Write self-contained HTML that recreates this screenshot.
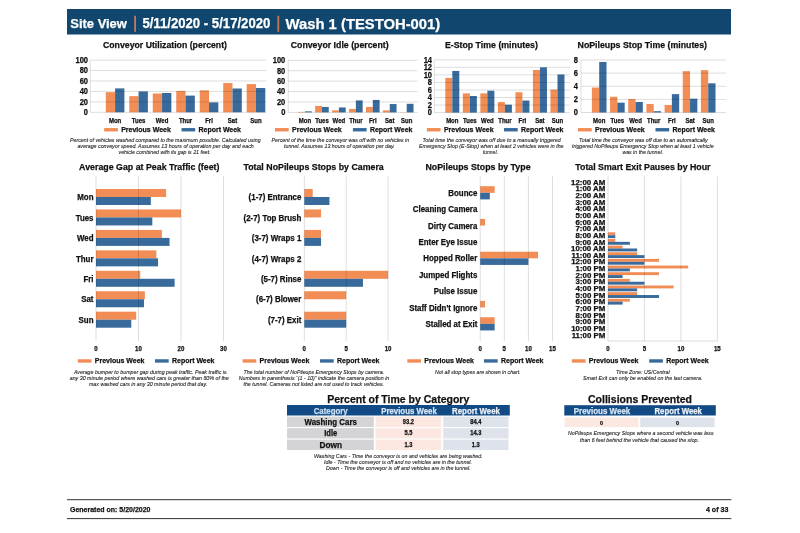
<!DOCTYPE html>
<html><head><meta charset="utf-8"><title>Site View</title>
<style>
html,body{margin:0;padding:0;background:#ffffff;}
body{width:800px;height:533px;overflow:hidden;}
svg{display:block;font-family:"Liberation Sans", sans-serif;will-change:transform;}
</style></head>
<body>
<svg width="800" height="533" viewBox="0 0 800 533">
<rect x="0" y="0" width="800" height="533" fill="#ffffff"/>
<rect x="67.00" y="9.00" width="664.00" height="25.50" fill="#11466F"/>
<text x="70.30" y="28.20" font-size="13.20" font-weight="bold" fill="#ffffff" stroke="#ffffff" stroke-width="0.25" textLength="56.60" lengthAdjust="spacingAndGlyphs">Site View</text>
<rect x="134.20" y="15.80" width="1.80" height="16.00" fill="#C9784F"/>
<text x="142.40" y="28.20" font-size="13.86" font-weight="bold" fill="#ffffff" stroke="#ffffff" stroke-width="0.25" textLength="128.00" lengthAdjust="spacingAndGlyphs">5/11/2020 - 5/17/2020</text>
<rect x="277.40" y="15.80" width="1.80" height="16.00" fill="#C9784F"/>
<text x="285.60" y="29.00" font-size="14.80" font-weight="bold" fill="#ffffff" stroke="#ffffff" stroke-width="0.25" textLength="154.60" lengthAdjust="spacingAndGlyphs">Wash 1 (TESTOH-001)</text>
<text x="165.00" y="47.90" font-size="9.68" text-anchor="middle" font-weight="bold" fill="#111111" stroke="#111111" stroke-width="0.25" textLength="124.00" lengthAdjust="spacingAndGlyphs">Conveyor Utilization (percent)</text>
<rect x="105.80" y="92.20" width="9.30" height="20.10" fill="#F28D56"/>
<rect x="115.10" y="88.39" width="9.30" height="23.91" fill="#386B9B"/>
<text x="115.10" y="123.10" font-size="6.60" text-anchor="middle" font-weight="bold" fill="#111111" stroke="#111111" stroke-width="0.25" textLength="12.33" lengthAdjust="spacingAndGlyphs">Mon</text>
<rect x="129.28" y="96.12" width="9.30" height="16.18" fill="#F28D56"/>
<rect x="138.58" y="91.42" width="9.30" height="20.88" fill="#386B9B"/>
<text x="138.58" y="123.10" font-size="6.60" text-anchor="middle" font-weight="bold" fill="#111111" stroke="#111111" stroke-width="0.25" textLength="13.56" lengthAdjust="spacingAndGlyphs">Tues</text>
<rect x="152.76" y="93.51" width="9.30" height="18.79" fill="#F28D56"/>
<rect x="162.06" y="92.99" width="9.30" height="19.31" fill="#386B9B"/>
<text x="162.06" y="123.10" font-size="6.60" text-anchor="middle" font-weight="bold" fill="#111111" stroke="#111111" stroke-width="0.25" textLength="12.56" lengthAdjust="spacingAndGlyphs">Wed</text>
<rect x="176.24" y="90.90" width="9.30" height="21.40" fill="#F28D56"/>
<rect x="185.54" y="95.60" width="9.30" height="16.70" fill="#386B9B"/>
<text x="185.54" y="123.10" font-size="6.60" text-anchor="middle" font-weight="bold" fill="#111111" stroke="#111111" stroke-width="0.25" textLength="13.33" lengthAdjust="spacingAndGlyphs">Thur</text>
<rect x="199.72" y="90.38" width="9.30" height="21.92" fill="#F28D56"/>
<rect x="209.02" y="102.38" width="9.30" height="9.92" fill="#386B9B"/>
<text x="209.02" y="123.10" font-size="6.60" text-anchor="middle" font-weight="bold" fill="#111111" stroke="#111111" stroke-width="0.25" textLength="7.67" lengthAdjust="spacingAndGlyphs">Fri</text>
<rect x="223.20" y="83.07" width="9.30" height="29.23" fill="#F28D56"/>
<rect x="232.50" y="88.50" width="9.30" height="23.80" fill="#386B9B"/>
<text x="232.50" y="123.10" font-size="6.60" text-anchor="middle" font-weight="bold" fill="#111111" stroke="#111111" stroke-width="0.25" textLength="9.34" lengthAdjust="spacingAndGlyphs">Sat</text>
<rect x="246.68" y="84.11" width="9.30" height="28.19" fill="#F28D56"/>
<rect x="255.98" y="88.03" width="9.30" height="24.27" fill="#386B9B"/>
<text x="255.98" y="123.10" font-size="6.60" text-anchor="middle" font-weight="bold" fill="#111111" stroke="#111111" stroke-width="0.25" textLength="11.33" lengthAdjust="spacingAndGlyphs">Sun</text>
<line x1="90.20" y1="112.30" x2="266.50" y2="112.30" stroke="#000" stroke-opacity="0.17" stroke-width="0.8"/>
<text x="88.00" y="115.10" font-size="8.25" text-anchor="end" font-weight="bold" fill="#111111" stroke="#111111" stroke-width="0.25" textLength="4.17" lengthAdjust="spacingAndGlyphs">0</text>
<line x1="90.20" y1="101.86" x2="266.50" y2="101.86" stroke="#000" stroke-opacity="0.17" stroke-width="0.8"/>
<text x="88.00" y="104.66" font-size="8.25" text-anchor="end" font-weight="bold" fill="#111111" stroke="#111111" stroke-width="0.25" textLength="8.34" lengthAdjust="spacingAndGlyphs">20</text>
<line x1="90.20" y1="91.42" x2="266.50" y2="91.42" stroke="#000" stroke-opacity="0.17" stroke-width="0.8"/>
<text x="88.00" y="94.22" font-size="8.25" text-anchor="end" font-weight="bold" fill="#111111" stroke="#111111" stroke-width="0.25" textLength="8.34" lengthAdjust="spacingAndGlyphs">40</text>
<line x1="90.20" y1="80.98" x2="266.50" y2="80.98" stroke="#000" stroke-opacity="0.17" stroke-width="0.8"/>
<text x="88.00" y="83.78" font-size="8.25" text-anchor="end" font-weight="bold" fill="#111111" stroke="#111111" stroke-width="0.25" textLength="8.34" lengthAdjust="spacingAndGlyphs">60</text>
<line x1="90.20" y1="70.54" x2="266.50" y2="70.54" stroke="#000" stroke-opacity="0.17" stroke-width="0.8"/>
<text x="88.00" y="73.34" font-size="8.25" text-anchor="end" font-weight="bold" fill="#111111" stroke="#111111" stroke-width="0.25" textLength="8.34" lengthAdjust="spacingAndGlyphs">80</text>
<line x1="90.20" y1="60.10" x2="266.50" y2="60.10" stroke="#000" stroke-opacity="0.17" stroke-width="0.8"/>
<text x="88.00" y="62.90" font-size="8.25" text-anchor="end" font-weight="bold" fill="#111111" stroke="#111111" stroke-width="0.25" textLength="12.51" lengthAdjust="spacingAndGlyphs">100</text>
<line x1="90.20" y1="60.10" x2="90.20" y2="112.30" stroke="#000" stroke-opacity="0.17" stroke-width="0.8"/>
<rect x="104.20" y="128.05" width="13.70" height="3.40" fill="#F28D56"/>
<text x="121.20" y="132.25" font-size="7.70" font-weight="bold" fill="#111111" stroke="#111111" stroke-width="0.25" textLength="49.70" lengthAdjust="spacingAndGlyphs">Previous Week</text>
<rect x="181.50" y="128.05" width="13.70" height="3.40" fill="#386B9B"/>
<text x="198.50" y="132.25" font-size="7.70" font-weight="bold" fill="#111111" stroke="#111111" stroke-width="0.25" textLength="42.50" lengthAdjust="spacingAndGlyphs">Report Week</text>
<text x="70.00" y="141.60" font-size="5.70" font-style="italic" fill="#222" stroke="#222" stroke-width="0.1" textLength="190.60" lengthAdjust="spacingAndGlyphs">Percent of vehicles washed compared to the maximum possible. Calculated using</text>
<text x="77.40" y="147.60" font-size="5.70" font-style="italic" fill="#222" stroke="#222" stroke-width="0.1" textLength="176.35" lengthAdjust="spacingAndGlyphs">average conveyor speed. Assumes 13 hours of operation per day and each</text>
<text x="118.60" y="153.60" font-size="5.70" font-style="italic" fill="#222" stroke="#222" stroke-width="0.1" textLength="92.00" lengthAdjust="spacingAndGlyphs">vehicle combined with its gap is 21 feet.</text>
<text x="339.70" y="47.90" font-size="9.68" text-anchor="middle" font-weight="bold" fill="#111111" stroke="#111111" stroke-width="0.25" textLength="98.00" lengthAdjust="spacingAndGlyphs">Conveyor Idle (percent)</text>
<rect x="298.20" y="111.88" width="6.80" height="0.52" fill="#F28D56"/>
<rect x="305.00" y="111.36" width="6.80" height="1.04" fill="#386B9B"/>
<text x="305.00" y="123.10" font-size="6.60" text-anchor="middle" font-weight="bold" fill="#111111" stroke="#111111" stroke-width="0.25" textLength="12.33" lengthAdjust="spacingAndGlyphs">Mon</text>
<rect x="315.15" y="105.89" width="6.80" height="6.51" fill="#F28D56"/>
<rect x="321.95" y="106.93" width="6.80" height="5.47" fill="#386B9B"/>
<text x="321.95" y="123.10" font-size="6.60" text-anchor="middle" font-weight="bold" fill="#111111" stroke="#111111" stroke-width="0.25" textLength="13.56" lengthAdjust="spacingAndGlyphs">Tues</text>
<rect x="332.10" y="110.32" width="6.80" height="2.08" fill="#F28D56"/>
<rect x="338.90" y="107.45" width="6.80" height="4.95" fill="#386B9B"/>
<text x="338.90" y="123.10" font-size="6.60" text-anchor="middle" font-weight="bold" fill="#111111" stroke="#111111" stroke-width="0.25" textLength="12.56" lengthAdjust="spacingAndGlyphs">Wed</text>
<rect x="349.05" y="108.91" width="6.80" height="3.49" fill="#F28D56"/>
<rect x="355.85" y="100.42" width="6.80" height="11.98" fill="#386B9B"/>
<text x="355.85" y="123.10" font-size="6.60" text-anchor="middle" font-weight="bold" fill="#111111" stroke="#111111" stroke-width="0.25" textLength="13.33" lengthAdjust="spacingAndGlyphs">Thur</text>
<rect x="366.00" y="106.93" width="6.80" height="5.47" fill="#F28D56"/>
<rect x="372.80" y="99.90" width="6.80" height="12.50" fill="#386B9B"/>
<text x="372.80" y="123.10" font-size="6.60" text-anchor="middle" font-weight="bold" fill="#111111" stroke="#111111" stroke-width="0.25" textLength="7.67" lengthAdjust="spacingAndGlyphs">Fri</text>
<rect x="382.95" y="110.32" width="6.80" height="2.08" fill="#F28D56"/>
<rect x="389.75" y="104.06" width="6.80" height="8.34" fill="#386B9B"/>
<text x="389.75" y="123.10" font-size="6.60" text-anchor="middle" font-weight="bold" fill="#111111" stroke="#111111" stroke-width="0.25" textLength="9.34" lengthAdjust="spacingAndGlyphs">Sat</text>
<rect x="399.90" y="112.24" width="6.80" height="0.16" fill="#F28D56"/>
<rect x="406.70" y="103.80" width="6.80" height="8.60" fill="#386B9B"/>
<text x="406.70" y="123.10" font-size="6.60" text-anchor="middle" font-weight="bold" fill="#111111" stroke="#111111" stroke-width="0.25" textLength="11.33" lengthAdjust="spacingAndGlyphs">Sun</text>
<line x1="288.20" y1="112.40" x2="417.50" y2="112.40" stroke="#000" stroke-opacity="0.17" stroke-width="0.8"/>
<text x="285.30" y="115.20" font-size="8.25" text-anchor="end" font-weight="bold" fill="#111111" stroke="#111111" stroke-width="0.25" textLength="4.17" lengthAdjust="spacingAndGlyphs">0</text>
<line x1="288.20" y1="101.98" x2="417.50" y2="101.98" stroke="#000" stroke-opacity="0.17" stroke-width="0.8"/>
<text x="285.30" y="104.78" font-size="8.25" text-anchor="end" font-weight="bold" fill="#111111" stroke="#111111" stroke-width="0.25" textLength="8.34" lengthAdjust="spacingAndGlyphs">20</text>
<line x1="288.20" y1="91.56" x2="417.50" y2="91.56" stroke="#000" stroke-opacity="0.17" stroke-width="0.8"/>
<text x="285.30" y="94.36" font-size="8.25" text-anchor="end" font-weight="bold" fill="#111111" stroke="#111111" stroke-width="0.25" textLength="8.34" lengthAdjust="spacingAndGlyphs">40</text>
<line x1="288.20" y1="81.14" x2="417.50" y2="81.14" stroke="#000" stroke-opacity="0.17" stroke-width="0.8"/>
<text x="285.30" y="83.94" font-size="8.25" text-anchor="end" font-weight="bold" fill="#111111" stroke="#111111" stroke-width="0.25" textLength="8.34" lengthAdjust="spacingAndGlyphs">60</text>
<line x1="288.20" y1="70.72" x2="417.50" y2="70.72" stroke="#000" stroke-opacity="0.17" stroke-width="0.8"/>
<text x="285.30" y="73.52" font-size="8.25" text-anchor="end" font-weight="bold" fill="#111111" stroke="#111111" stroke-width="0.25" textLength="8.34" lengthAdjust="spacingAndGlyphs">80</text>
<line x1="288.20" y1="60.30" x2="417.50" y2="60.30" stroke="#000" stroke-opacity="0.17" stroke-width="0.8"/>
<text x="285.30" y="63.10" font-size="8.25" text-anchor="end" font-weight="bold" fill="#111111" stroke="#111111" stroke-width="0.25" textLength="12.51" lengthAdjust="spacingAndGlyphs">100</text>
<line x1="288.20" y1="60.30" x2="288.20" y2="112.40" stroke="#000" stroke-opacity="0.17" stroke-width="0.8"/>
<rect x="275.00" y="128.05" width="13.70" height="3.40" fill="#F28D56"/>
<text x="292.00" y="132.25" font-size="7.70" font-weight="bold" fill="#111111" stroke="#111111" stroke-width="0.25" textLength="49.70" lengthAdjust="spacingAndGlyphs">Previous Week</text>
<rect x="352.90" y="128.05" width="13.70" height="3.40" fill="#386B9B"/>
<text x="369.90" y="132.25" font-size="7.70" font-weight="bold" fill="#111111" stroke="#111111" stroke-width="0.25" textLength="42.50" lengthAdjust="spacingAndGlyphs">Report Week</text>
<text x="271.50" y="141.60" font-size="5.70" font-style="italic" fill="#222" stroke="#222" stroke-width="0.1" textLength="137.70" lengthAdjust="spacingAndGlyphs">Percent of the time the conveyor was off with no vehicles in</text>
<text x="284.00" y="147.60" font-size="5.70" font-style="italic" fill="#222" stroke="#222" stroke-width="0.1" textLength="110.80" lengthAdjust="spacingAndGlyphs">tunnel. Assumes 13 hours of operation per day.</text>
<text x="491.40" y="47.90" font-size="9.68" text-anchor="middle" font-weight="bold" fill="#111111" stroke="#111111" stroke-width="0.25" textLength="93.00" lengthAdjust="spacingAndGlyphs">E-Stop Time (minutes)</text>
<rect x="445.30" y="77.90" width="7.00" height="34.70" fill="#F28D56"/>
<rect x="452.30" y="70.93" width="7.00" height="41.67" fill="#386B9B"/>
<text x="452.30" y="123.10" font-size="6.60" text-anchor="middle" font-weight="bold" fill="#111111" stroke="#111111" stroke-width="0.25" textLength="12.33" lengthAdjust="spacingAndGlyphs">Mon</text>
<rect x="462.83" y="93.37" width="7.00" height="19.23" fill="#F28D56"/>
<rect x="469.83" y="96.01" width="7.00" height="16.59" fill="#386B9B"/>
<text x="469.83" y="123.10" font-size="6.60" text-anchor="middle" font-weight="bold" fill="#111111" stroke="#111111" stroke-width="0.25" textLength="13.56" lengthAdjust="spacingAndGlyphs">Tues</text>
<rect x="480.36" y="93.37" width="7.00" height="19.23" fill="#F28D56"/>
<rect x="487.36" y="90.73" width="7.00" height="21.87" fill="#386B9B"/>
<text x="487.36" y="123.10" font-size="6.60" text-anchor="middle" font-weight="bold" fill="#111111" stroke="#111111" stroke-width="0.25" textLength="12.56" lengthAdjust="spacingAndGlyphs">Wed</text>
<rect x="497.89" y="102.04" width="7.00" height="10.56" fill="#F28D56"/>
<rect x="504.89" y="104.68" width="7.00" height="7.92" fill="#386B9B"/>
<text x="504.89" y="123.10" font-size="6.60" text-anchor="middle" font-weight="bold" fill="#111111" stroke="#111111" stroke-width="0.25" textLength="13.33" lengthAdjust="spacingAndGlyphs">Thur</text>
<rect x="515.42" y="92.23" width="7.00" height="20.37" fill="#F28D56"/>
<rect x="522.42" y="100.53" width="7.00" height="12.07" fill="#386B9B"/>
<text x="522.42" y="123.10" font-size="6.60" text-anchor="middle" font-weight="bold" fill="#111111" stroke="#111111" stroke-width="0.25" textLength="7.67" lengthAdjust="spacingAndGlyphs">Fri</text>
<rect x="532.95" y="69.98" width="7.00" height="42.62" fill="#F28D56"/>
<rect x="539.95" y="67.34" width="7.00" height="45.26" fill="#386B9B"/>
<text x="539.95" y="123.10" font-size="6.60" text-anchor="middle" font-weight="bold" fill="#111111" stroke="#111111" stroke-width="0.25" textLength="9.34" lengthAdjust="spacingAndGlyphs">Sat</text>
<rect x="550.48" y="89.59" width="7.00" height="23.01" fill="#F28D56"/>
<rect x="557.48" y="74.51" width="7.00" height="38.09" fill="#386B9B"/>
<text x="557.48" y="123.10" font-size="6.60" text-anchor="middle" font-weight="bold" fill="#111111" stroke="#111111" stroke-width="0.25" textLength="11.33" lengthAdjust="spacingAndGlyphs">Sun</text>
<line x1="434.30" y1="112.60" x2="570.00" y2="112.60" stroke="#000" stroke-opacity="0.17" stroke-width="0.8"/>
<text x="432.00" y="115.40" font-size="8.25" text-anchor="end" font-weight="bold" fill="#111111" stroke="#111111" stroke-width="0.25" textLength="4.17" lengthAdjust="spacingAndGlyphs">0</text>
<line x1="434.30" y1="105.06" x2="570.00" y2="105.06" stroke="#000" stroke-opacity="0.17" stroke-width="0.8"/>
<text x="432.00" y="107.86" font-size="8.25" text-anchor="end" font-weight="bold" fill="#111111" stroke="#111111" stroke-width="0.25" textLength="4.17" lengthAdjust="spacingAndGlyphs">2</text>
<line x1="434.30" y1="97.51" x2="570.00" y2="97.51" stroke="#000" stroke-opacity="0.17" stroke-width="0.8"/>
<text x="432.00" y="100.31" font-size="8.25" text-anchor="end" font-weight="bold" fill="#111111" stroke="#111111" stroke-width="0.25" textLength="4.17" lengthAdjust="spacingAndGlyphs">4</text>
<line x1="434.30" y1="89.97" x2="570.00" y2="89.97" stroke="#000" stroke-opacity="0.17" stroke-width="0.8"/>
<text x="432.00" y="92.77" font-size="8.25" text-anchor="end" font-weight="bold" fill="#111111" stroke="#111111" stroke-width="0.25" textLength="4.17" lengthAdjust="spacingAndGlyphs">6</text>
<line x1="434.30" y1="82.43" x2="570.00" y2="82.43" stroke="#000" stroke-opacity="0.17" stroke-width="0.8"/>
<text x="432.00" y="85.23" font-size="8.25" text-anchor="end" font-weight="bold" fill="#111111" stroke="#111111" stroke-width="0.25" textLength="4.17" lengthAdjust="spacingAndGlyphs">8</text>
<line x1="434.30" y1="74.89" x2="570.00" y2="74.89" stroke="#000" stroke-opacity="0.17" stroke-width="0.8"/>
<text x="432.00" y="77.69" font-size="8.25" text-anchor="end" font-weight="bold" fill="#111111" stroke="#111111" stroke-width="0.25" textLength="8.34" lengthAdjust="spacingAndGlyphs">10</text>
<line x1="434.30" y1="67.34" x2="570.00" y2="67.34" stroke="#000" stroke-opacity="0.17" stroke-width="0.8"/>
<text x="432.00" y="70.14" font-size="8.25" text-anchor="end" font-weight="bold" fill="#111111" stroke="#111111" stroke-width="0.25" textLength="8.34" lengthAdjust="spacingAndGlyphs">12</text>
<line x1="434.30" y1="59.80" x2="570.00" y2="59.80" stroke="#000" stroke-opacity="0.17" stroke-width="0.8"/>
<text x="432.00" y="62.60" font-size="8.25" text-anchor="end" font-weight="bold" fill="#111111" stroke="#111111" stroke-width="0.25" textLength="8.34" lengthAdjust="spacingAndGlyphs">14</text>
<line x1="434.30" y1="59.80" x2="434.30" y2="112.60" stroke="#000" stroke-opacity="0.17" stroke-width="0.8"/>
<rect x="426.90" y="128.05" width="13.70" height="3.40" fill="#F28D56"/>
<text x="443.90" y="132.25" font-size="7.70" font-weight="bold" fill="#111111" stroke="#111111" stroke-width="0.25" textLength="49.70" lengthAdjust="spacingAndGlyphs">Previous Week</text>
<rect x="504.00" y="128.05" width="13.70" height="3.40" fill="#386B9B"/>
<text x="521.00" y="132.25" font-size="7.70" font-weight="bold" fill="#111111" stroke="#111111" stroke-width="0.25" textLength="42.50" lengthAdjust="spacingAndGlyphs">Report Week</text>
<text x="422.50" y="141.60" font-size="5.70" font-style="italic" fill="#222" stroke="#222" stroke-width="0.1" textLength="138.20" lengthAdjust="spacingAndGlyphs">Total time the conveyor was off due to a manually triggered</text>
<text x="419.00" y="147.60" font-size="5.70" font-style="italic" fill="#222" stroke="#222" stroke-width="0.1" textLength="144.50" lengthAdjust="spacingAndGlyphs">Emergency Stop (E-Stop) when at least 2 vehicles were in the</text>
<text x="482.90" y="153.60" font-size="5.70" font-style="italic" fill="#222" stroke="#222" stroke-width="0.1" textLength="15.00" lengthAdjust="spacingAndGlyphs">tunnel.</text>
<text x="642.30" y="47.90" font-size="9.68" text-anchor="middle" font-weight="bold" fill="#111111" stroke="#111111" stroke-width="0.25" textLength="129.50" lengthAdjust="spacingAndGlyphs">NoPileups Stop Time (minutes)</text>
<rect x="591.90" y="87.56" width="7.30" height="24.94" fill="#F28D56"/>
<rect x="599.20" y="61.97" width="7.30" height="50.53" fill="#386B9B"/>
<text x="599.20" y="123.10" font-size="6.60" text-anchor="middle" font-weight="bold" fill="#111111" stroke="#111111" stroke-width="0.25" textLength="12.33" lengthAdjust="spacingAndGlyphs">Mon</text>
<rect x="610.07" y="96.75" width="7.30" height="15.75" fill="#F28D56"/>
<rect x="617.37" y="102.66" width="7.30" height="9.84" fill="#386B9B"/>
<text x="617.37" y="123.10" font-size="6.60" text-anchor="middle" font-weight="bold" fill="#111111" stroke="#111111" stroke-width="0.25" textLength="13.56" lengthAdjust="spacingAndGlyphs">Tues</text>
<rect x="628.24" y="99.05" width="7.30" height="13.45" fill="#F28D56"/>
<rect x="635.54" y="102.00" width="7.30" height="10.50" fill="#386B9B"/>
<text x="635.54" y="123.10" font-size="6.60" text-anchor="middle" font-weight="bold" fill="#111111" stroke="#111111" stroke-width="0.25" textLength="12.56" lengthAdjust="spacingAndGlyphs">Wed</text>
<rect x="646.41" y="103.97" width="7.30" height="8.53" fill="#F28D56"/>
<rect x="653.71" y="111.19" width="7.30" height="1.31" fill="#386B9B"/>
<text x="653.71" y="123.10" font-size="6.60" text-anchor="middle" font-weight="bold" fill="#111111" stroke="#111111" stroke-width="0.25" textLength="13.33" lengthAdjust="spacingAndGlyphs">Thur</text>
<rect x="664.58" y="104.95" width="7.30" height="7.55" fill="#F28D56"/>
<rect x="671.88" y="94.12" width="7.30" height="18.38" fill="#386B9B"/>
<text x="671.88" y="123.10" font-size="6.60" text-anchor="middle" font-weight="bold" fill="#111111" stroke="#111111" stroke-width="0.25" textLength="7.67" lengthAdjust="spacingAndGlyphs">Fri</text>
<rect x="682.75" y="71.16" width="7.30" height="41.34" fill="#F28D56"/>
<rect x="690.05" y="98.72" width="7.30" height="13.78" fill="#386B9B"/>
<text x="690.05" y="123.10" font-size="6.60" text-anchor="middle" font-weight="bold" fill="#111111" stroke="#111111" stroke-width="0.25" textLength="9.34" lengthAdjust="spacingAndGlyphs">Sat</text>
<rect x="700.92" y="70.17" width="7.30" height="42.33" fill="#F28D56"/>
<rect x="708.22" y="83.30" width="7.30" height="29.20" fill="#386B9B"/>
<text x="708.22" y="123.10" font-size="6.60" text-anchor="middle" font-weight="bold" fill="#111111" stroke="#111111" stroke-width="0.25" textLength="11.33" lengthAdjust="spacingAndGlyphs">Sun</text>
<line x1="581.00" y1="112.50" x2="726.20" y2="112.50" stroke="#000" stroke-opacity="0.17" stroke-width="0.8"/>
<text x="578.00" y="115.30" font-size="8.25" text-anchor="end" font-weight="bold" fill="#111111" stroke="#111111" stroke-width="0.25" textLength="4.17" lengthAdjust="spacingAndGlyphs">0</text>
<line x1="581.00" y1="99.38" x2="726.20" y2="99.38" stroke="#000" stroke-opacity="0.17" stroke-width="0.8"/>
<text x="578.00" y="102.17" font-size="8.25" text-anchor="end" font-weight="bold" fill="#111111" stroke="#111111" stroke-width="0.25" textLength="4.17" lengthAdjust="spacingAndGlyphs">2</text>
<line x1="581.00" y1="86.25" x2="726.20" y2="86.25" stroke="#000" stroke-opacity="0.17" stroke-width="0.8"/>
<text x="578.00" y="89.05" font-size="8.25" text-anchor="end" font-weight="bold" fill="#111111" stroke="#111111" stroke-width="0.25" textLength="4.17" lengthAdjust="spacingAndGlyphs">4</text>
<line x1="581.00" y1="73.12" x2="726.20" y2="73.12" stroke="#000" stroke-opacity="0.17" stroke-width="0.8"/>
<text x="578.00" y="75.92" font-size="8.25" text-anchor="end" font-weight="bold" fill="#111111" stroke="#111111" stroke-width="0.25" textLength="4.17" lengthAdjust="spacingAndGlyphs">6</text>
<line x1="581.00" y1="60.00" x2="726.20" y2="60.00" stroke="#000" stroke-opacity="0.17" stroke-width="0.8"/>
<text x="578.00" y="62.80" font-size="8.25" text-anchor="end" font-weight="bold" fill="#111111" stroke="#111111" stroke-width="0.25" textLength="4.17" lengthAdjust="spacingAndGlyphs">8</text>
<line x1="581.00" y1="60.00" x2="581.00" y2="112.50" stroke="#000" stroke-opacity="0.17" stroke-width="0.8"/>
<rect x="578.00" y="128.05" width="13.70" height="3.40" fill="#F28D56"/>
<text x="595.00" y="132.25" font-size="7.70" font-weight="bold" fill="#111111" stroke="#111111" stroke-width="0.25" textLength="49.70" lengthAdjust="spacingAndGlyphs">Previous Week</text>
<rect x="655.50" y="128.05" width="13.70" height="3.40" fill="#386B9B"/>
<text x="672.50" y="132.25" font-size="7.70" font-weight="bold" fill="#111111" stroke="#111111" stroke-width="0.25" textLength="42.50" lengthAdjust="spacingAndGlyphs">Report Week</text>
<text x="579.00" y="141.60" font-size="5.70" font-style="italic" fill="#222" stroke="#222" stroke-width="0.1" textLength="128.60" lengthAdjust="spacingAndGlyphs">Total time the conveyor was off due to an automatically</text>
<text x="572.00" y="147.60" font-size="5.70" font-style="italic" fill="#222" stroke="#222" stroke-width="0.1" textLength="141.60" lengthAdjust="spacingAndGlyphs">triggered NoPileups Emergency Stop when at least 1 vehicle</text>
<text x="622.40" y="153.60" font-size="5.70" font-style="italic" fill="#222" stroke="#222" stroke-width="0.1" textLength="40.60" lengthAdjust="spacingAndGlyphs">was in the tunnel.</text>
<text x="149.30" y="169.70" font-size="9.68" text-anchor="middle" font-weight="bold" fill="#111111" stroke="#111111" stroke-width="0.25" textLength="140.40" lengthAdjust="spacingAndGlyphs">Average Gap at Peak Traffic (feet)</text>
<rect x="96.00" y="189.00" width="70.12" height="8.00" fill="#F28D56"/>
<rect x="96.00" y="197.00" width="54.83" height="8.00" fill="#386B9B"/>
<text x="93.50" y="200.17" font-size="8.29" text-anchor="end" font-weight="bold" fill="#111111" stroke="#111111" stroke-width="0.25" textLength="16.23" lengthAdjust="spacingAndGlyphs">Mon</text>
<rect x="96.00" y="209.45" width="85.00" height="8.00" fill="#F28D56"/>
<rect x="96.00" y="217.45" width="56.31" height="8.00" fill="#386B9B"/>
<text x="93.50" y="220.62" font-size="8.29" text-anchor="end" font-weight="bold" fill="#111111" stroke="#111111" stroke-width="0.25" textLength="17.85" lengthAdjust="spacingAndGlyphs">Tues</text>
<rect x="96.00" y="229.90" width="65.88" height="8.00" fill="#F28D56"/>
<rect x="96.00" y="237.90" width="73.53" height="8.00" fill="#386B9B"/>
<text x="93.50" y="241.07" font-size="8.29" text-anchor="end" font-weight="bold" fill="#111111" stroke="#111111" stroke-width="0.25" textLength="16.53" lengthAdjust="spacingAndGlyphs">Wed</text>
<rect x="96.00" y="250.35" width="60.35" height="8.00" fill="#F28D56"/>
<rect x="96.00" y="258.35" width="62.05" height="8.00" fill="#386B9B"/>
<text x="93.50" y="261.52" font-size="8.29" text-anchor="end" font-weight="bold" fill="#111111" stroke="#111111" stroke-width="0.25" textLength="17.55" lengthAdjust="spacingAndGlyphs">Thur</text>
<rect x="96.00" y="270.80" width="44.20" height="8.00" fill="#F28D56"/>
<rect x="96.00" y="278.80" width="78.62" height="8.00" fill="#386B9B"/>
<text x="93.50" y="281.97" font-size="8.29" text-anchor="end" font-weight="bold" fill="#111111" stroke="#111111" stroke-width="0.25" textLength="10.09" lengthAdjust="spacingAndGlyphs">Fri</text>
<rect x="96.00" y="291.25" width="48.88" height="8.00" fill="#F28D56"/>
<rect x="96.00" y="299.25" width="48.03" height="8.00" fill="#386B9B"/>
<text x="93.50" y="302.42" font-size="8.29" text-anchor="end" font-weight="bold" fill="#111111" stroke="#111111" stroke-width="0.25" textLength="12.29" lengthAdjust="spacingAndGlyphs">Sat</text>
<rect x="96.00" y="311.70" width="40.16" height="8.00" fill="#F28D56"/>
<rect x="96.00" y="319.70" width="35.28" height="8.00" fill="#386B9B"/>
<text x="93.50" y="322.87" font-size="8.29" text-anchor="end" font-weight="bold" fill="#111111" stroke="#111111" stroke-width="0.25" textLength="14.92" lengthAdjust="spacingAndGlyphs">Sun</text>
<line x1="96.00" y1="176.40" x2="96.00" y2="341.00" stroke="#000" stroke-opacity="0.17" stroke-width="0.8"/>
<text x="96.00" y="351.00" font-size="6.71" text-anchor="middle" font-weight="bold" fill="#111111" stroke="#111111" stroke-width="0.25" textLength="3.39" lengthAdjust="spacingAndGlyphs">0</text>
<line x1="138.50" y1="176.40" x2="138.50" y2="341.00" stroke="#000" stroke-opacity="0.17" stroke-width="0.8"/>
<text x="138.50" y="351.00" font-size="6.71" text-anchor="middle" font-weight="bold" fill="#111111" stroke="#111111" stroke-width="0.25" textLength="6.79" lengthAdjust="spacingAndGlyphs">10</text>
<line x1="181.00" y1="176.40" x2="181.00" y2="341.00" stroke="#000" stroke-opacity="0.17" stroke-width="0.8"/>
<text x="181.00" y="351.00" font-size="6.71" text-anchor="middle" font-weight="bold" fill="#111111" stroke="#111111" stroke-width="0.25" textLength="6.79" lengthAdjust="spacingAndGlyphs">20</text>
<line x1="223.50" y1="176.40" x2="223.50" y2="341.00" stroke="#000" stroke-opacity="0.17" stroke-width="0.8"/>
<text x="223.50" y="351.00" font-size="6.71" text-anchor="middle" font-weight="bold" fill="#111111" stroke="#111111" stroke-width="0.25" textLength="6.79" lengthAdjust="spacingAndGlyphs">30</text>
<rect x="77.80" y="359.25" width="13.70" height="3.40" fill="#F28D56"/>
<text x="94.80" y="363.45" font-size="7.70" font-weight="bold" fill="#111111" stroke="#111111" stroke-width="0.25" textLength="49.70" lengthAdjust="spacingAndGlyphs">Previous Week</text>
<rect x="155.00" y="359.25" width="13.70" height="3.40" fill="#386B9B"/>
<text x="172.00" y="363.45" font-size="7.70" font-weight="bold" fill="#111111" stroke="#111111" stroke-width="0.25" textLength="42.50" lengthAdjust="spacingAndGlyphs">Report Week</text>
<text x="73.90" y="373.50" font-size="5.70" font-style="italic" fill="#222" stroke="#222" stroke-width="0.1" textLength="152.80" lengthAdjust="spacingAndGlyphs">Average bumper to bumper gap during peak traffic. Peak traffic is</text>
<text x="69.70" y="379.60" font-size="5.70" font-style="italic" fill="#222" stroke="#222" stroke-width="0.1" textLength="159.10" lengthAdjust="spacingAndGlyphs">any 30 minute period where washed cars is greater than 80% of the</text>
<text x="89.00" y="385.60" font-size="5.70" font-style="italic" fill="#222" stroke="#222" stroke-width="0.1" textLength="118.10" lengthAdjust="spacingAndGlyphs">max washed cars in any 30 minute period that day.</text>
<text x="313.60" y="169.70" font-size="9.68" text-anchor="middle" font-weight="bold" fill="#111111" stroke="#111111" stroke-width="0.25" textLength="140.30" lengthAdjust="spacingAndGlyphs">Total NoPileups Stops by Camera</text>
<rect x="304.30" y="189.00" width="8.38" height="8.00" fill="#F28D56"/>
<rect x="304.30" y="197.00" width="25.14" height="8.00" fill="#386B9B"/>
<text x="301.30" y="200.17" font-size="8.29" text-anchor="end" font-weight="bold" fill="#111111" stroke="#111111" stroke-width="0.25" textLength="52.68" lengthAdjust="spacingAndGlyphs">(1-7) Entrance</text>
<rect x="304.30" y="209.45" width="16.76" height="8.00" fill="#F28D56"/>
<text x="301.30" y="220.62" font-size="8.29" text-anchor="end" font-weight="bold" fill="#111111" stroke="#111111" stroke-width="0.25" textLength="57.78" lengthAdjust="spacingAndGlyphs">(2-7) Top Brush</text>
<rect x="304.30" y="229.90" width="16.76" height="8.00" fill="#F28D56"/>
<rect x="304.30" y="237.90" width="16.76" height="8.00" fill="#386B9B"/>
<text x="301.30" y="241.07" font-size="8.29" text-anchor="end" font-weight="bold" fill="#111111" stroke="#111111" stroke-width="0.25" textLength="49.46" lengthAdjust="spacingAndGlyphs">(3-7) Wraps 1</text>
<text x="301.30" y="261.52" font-size="8.29" text-anchor="end" font-weight="bold" fill="#111111" stroke="#111111" stroke-width="0.25" textLength="49.46" lengthAdjust="spacingAndGlyphs">(4-7) Wraps 2</text>
<rect x="304.30" y="270.80" width="83.80" height="8.00" fill="#F28D56"/>
<rect x="304.30" y="278.80" width="58.66" height="8.00" fill="#386B9B"/>
<text x="301.30" y="281.97" font-size="8.29" text-anchor="end" font-weight="bold" fill="#111111" stroke="#111111" stroke-width="0.25" textLength="40.39" lengthAdjust="spacingAndGlyphs">(5-7) Rinse</text>
<rect x="304.30" y="291.25" width="41.90" height="8.00" fill="#F28D56"/>
<text x="301.30" y="302.42" font-size="8.29" text-anchor="end" font-weight="bold" fill="#111111" stroke="#111111" stroke-width="0.25" textLength="45.21" lengthAdjust="spacingAndGlyphs">(6-7) Blower</text>
<rect x="304.30" y="311.70" width="41.90" height="8.00" fill="#F28D56"/>
<rect x="304.30" y="319.70" width="41.90" height="8.00" fill="#386B9B"/>
<text x="301.30" y="322.87" font-size="8.29" text-anchor="end" font-weight="bold" fill="#111111" stroke="#111111" stroke-width="0.25" textLength="33.36" lengthAdjust="spacingAndGlyphs">(7-7) Exit</text>
<line x1="304.30" y1="176.40" x2="304.30" y2="341.00" stroke="#000" stroke-opacity="0.17" stroke-width="0.8"/>
<text x="304.30" y="351.00" font-size="6.71" text-anchor="middle" font-weight="bold" fill="#111111" stroke="#111111" stroke-width="0.25" textLength="3.39" lengthAdjust="spacingAndGlyphs">0</text>
<line x1="346.20" y1="176.40" x2="346.20" y2="341.00" stroke="#000" stroke-opacity="0.17" stroke-width="0.8"/>
<text x="346.20" y="351.00" font-size="6.71" text-anchor="middle" font-weight="bold" fill="#111111" stroke="#111111" stroke-width="0.25" textLength="3.39" lengthAdjust="spacingAndGlyphs">5</text>
<line x1="388.10" y1="176.40" x2="388.10" y2="341.00" stroke="#000" stroke-opacity="0.17" stroke-width="0.8"/>
<text x="388.10" y="351.00" font-size="6.71" text-anchor="middle" font-weight="bold" fill="#111111" stroke="#111111" stroke-width="0.25" textLength="6.79" lengthAdjust="spacingAndGlyphs">10</text>
<rect x="242.60" y="359.25" width="13.70" height="3.40" fill="#F28D56"/>
<text x="259.60" y="363.45" font-size="7.70" font-weight="bold" fill="#111111" stroke="#111111" stroke-width="0.25" textLength="49.70" lengthAdjust="spacingAndGlyphs">Previous Week</text>
<rect x="320.00" y="359.25" width="13.70" height="3.40" fill="#386B9B"/>
<text x="337.00" y="363.45" font-size="7.70" font-weight="bold" fill="#111111" stroke="#111111" stroke-width="0.25" textLength="42.50" lengthAdjust="spacingAndGlyphs">Report Week</text>
<text x="243.50" y="373.50" font-size="5.70" font-style="italic" fill="#222" stroke="#222" stroke-width="0.1" textLength="140.50" lengthAdjust="spacingAndGlyphs">The total number of NoPileups Emergency Stops by camera.</text>
<text x="238.80" y="379.60" font-size="5.70" font-style="italic" fill="#222" stroke="#222" stroke-width="0.1" textLength="150.50" lengthAdjust="spacingAndGlyphs">Numbers in parenthesis “(1 - 10)” indicate the camera position in</text>
<text x="243.50" y="385.60" font-size="5.70" font-style="italic" fill="#222" stroke="#222" stroke-width="0.1" textLength="140.50" lengthAdjust="spacingAndGlyphs">the tunnel. Cameras not listed are not used to track vehicles.</text>
<text x="478.00" y="169.70" font-size="9.68" text-anchor="middle" font-weight="bold" fill="#111111" stroke="#111111" stroke-width="0.25" textLength="105.10" lengthAdjust="spacingAndGlyphs">NoPileups Stops by Type</text>
<rect x="480.20" y="186.20" width="14.46" height="6.60" fill="#F28D56"/>
<rect x="480.20" y="192.80" width="9.64" height="6.60" fill="#386B9B"/>
<text x="477.30" y="195.97" font-size="8.29" text-anchor="end" font-weight="bold" fill="#111111" stroke="#111111" stroke-width="0.25" textLength="28.97" lengthAdjust="spacingAndGlyphs">Bounce</text>
<text x="477.30" y="212.35" font-size="8.29" text-anchor="end" font-weight="bold" fill="#111111" stroke="#111111" stroke-width="0.25" textLength="64.54" lengthAdjust="spacingAndGlyphs">Cleaning Camera</text>
<rect x="480.20" y="218.96" width="4.82" height="6.60" fill="#F28D56"/>
<text x="477.30" y="228.73" font-size="8.29" text-anchor="end" font-weight="bold" fill="#111111" stroke="#111111" stroke-width="0.25" textLength="49.18" lengthAdjust="spacingAndGlyphs">Dirty Camera</text>
<text x="477.30" y="245.11" font-size="8.29" text-anchor="end" font-weight="bold" fill="#111111" stroke="#111111" stroke-width="0.25" textLength="58.84" lengthAdjust="spacingAndGlyphs">Enter Eye Issue</text>
<rect x="480.20" y="251.72" width="57.84" height="6.60" fill="#F28D56"/>
<rect x="480.20" y="258.32" width="48.20" height="6.60" fill="#386B9B"/>
<text x="477.30" y="261.49" font-size="8.29" text-anchor="end" font-weight="bold" fill="#111111" stroke="#111111" stroke-width="0.25" textLength="53.98" lengthAdjust="spacingAndGlyphs">Hopped Roller</text>
<text x="477.30" y="277.87" font-size="8.29" text-anchor="end" font-weight="bold" fill="#111111" stroke="#111111" stroke-width="0.25" textLength="58.37" lengthAdjust="spacingAndGlyphs">Jumped Flights</text>
<text x="477.30" y="294.25" font-size="8.29" text-anchor="end" font-weight="bold" fill="#111111" stroke="#111111" stroke-width="0.25" textLength="43.47" lengthAdjust="spacingAndGlyphs">Pulse Issue</text>
<rect x="480.20" y="300.86" width="4.82" height="6.60" fill="#F28D56"/>
<text x="477.30" y="310.63" font-size="8.29" text-anchor="end" font-weight="bold" fill="#111111" stroke="#111111" stroke-width="0.25" textLength="68.15" lengthAdjust="spacingAndGlyphs">Staff Didn't Ignore</text>
<rect x="480.20" y="317.24" width="14.46" height="6.60" fill="#F28D56"/>
<rect x="480.20" y="323.84" width="14.46" height="6.60" fill="#386B9B"/>
<text x="477.30" y="327.01" font-size="8.29" text-anchor="end" font-weight="bold" fill="#111111" stroke="#111111" stroke-width="0.25" textLength="51.81" lengthAdjust="spacingAndGlyphs">Stalled at Exit</text>
<line x1="480.20" y1="176.40" x2="480.20" y2="341.00" stroke="#000" stroke-opacity="0.17" stroke-width="0.8"/>
<text x="480.20" y="351.00" font-size="6.71" text-anchor="middle" font-weight="bold" fill="#111111" stroke="#111111" stroke-width="0.25" textLength="3.39" lengthAdjust="spacingAndGlyphs">0</text>
<line x1="504.30" y1="176.40" x2="504.30" y2="341.00" stroke="#000" stroke-opacity="0.17" stroke-width="0.8"/>
<text x="504.30" y="351.00" font-size="6.71" text-anchor="middle" font-weight="bold" fill="#111111" stroke="#111111" stroke-width="0.25" textLength="3.39" lengthAdjust="spacingAndGlyphs">5</text>
<line x1="528.40" y1="176.40" x2="528.40" y2="341.00" stroke="#000" stroke-opacity="0.17" stroke-width="0.8"/>
<text x="528.40" y="351.00" font-size="6.71" text-anchor="middle" font-weight="bold" fill="#111111" stroke="#111111" stroke-width="0.25" textLength="6.79" lengthAdjust="spacingAndGlyphs">10</text>
<line x1="552.50" y1="176.40" x2="552.50" y2="341.00" stroke="#000" stroke-opacity="0.17" stroke-width="0.8"/>
<text x="552.50" y="351.00" font-size="6.71" text-anchor="middle" font-weight="bold" fill="#111111" stroke="#111111" stroke-width="0.25" textLength="6.79" lengthAdjust="spacingAndGlyphs">15</text>
<rect x="407.30" y="359.25" width="13.70" height="3.40" fill="#F28D56"/>
<text x="424.30" y="363.45" font-size="7.70" font-weight="bold" fill="#111111" stroke="#111111" stroke-width="0.25" textLength="49.70" lengthAdjust="spacingAndGlyphs">Previous Week</text>
<rect x="484.00" y="359.25" width="13.70" height="3.40" fill="#386B9B"/>
<text x="501.00" y="363.45" font-size="7.70" font-weight="bold" fill="#111111" stroke="#111111" stroke-width="0.25" textLength="42.50" lengthAdjust="spacingAndGlyphs">Report Week</text>
<text x="434.90" y="373.80" font-size="5.70" font-style="italic" fill="#222" stroke="#222" stroke-width="0.1" textLength="85.80" lengthAdjust="spacingAndGlyphs">Not all stop types are shown in chart.</text>
<text x="642.90" y="169.70" font-size="9.68" text-anchor="middle" font-weight="bold" fill="#111111" stroke="#111111" stroke-width="0.25" textLength="135.20" lengthAdjust="spacingAndGlyphs">Total Smart Exit Pauses by Hour</text>
<text x="605.30" y="184.65" font-size="6.84" text-anchor="end" font-weight="bold" fill="#111111" stroke="#111111" stroke-width="0.25" textLength="34.22" lengthAdjust="spacingAndGlyphs">12:00 AM</text>
<text x="605.30" y="191.30" font-size="6.84" text-anchor="end" font-weight="bold" fill="#111111" stroke="#111111" stroke-width="0.25" textLength="29.85" lengthAdjust="spacingAndGlyphs">1:00 AM</text>
<text x="605.30" y="197.95" font-size="6.84" text-anchor="end" font-weight="bold" fill="#111111" stroke="#111111" stroke-width="0.25" textLength="29.85" lengthAdjust="spacingAndGlyphs">2:00 AM</text>
<text x="605.30" y="204.60" font-size="6.84" text-anchor="end" font-weight="bold" fill="#111111" stroke="#111111" stroke-width="0.25" textLength="29.85" lengthAdjust="spacingAndGlyphs">3:00 AM</text>
<text x="605.30" y="211.25" font-size="6.84" text-anchor="end" font-weight="bold" fill="#111111" stroke="#111111" stroke-width="0.25" textLength="29.85" lengthAdjust="spacingAndGlyphs">4:00 AM</text>
<text x="605.30" y="217.90" font-size="6.84" text-anchor="end" font-weight="bold" fill="#111111" stroke="#111111" stroke-width="0.25" textLength="29.85" lengthAdjust="spacingAndGlyphs">5:00 AM</text>
<text x="605.30" y="224.55" font-size="6.84" text-anchor="end" font-weight="bold" fill="#111111" stroke="#111111" stroke-width="0.25" textLength="29.85" lengthAdjust="spacingAndGlyphs">6:00 AM</text>
<text x="605.30" y="231.20" font-size="6.84" text-anchor="end" font-weight="bold" fill="#111111" stroke="#111111" stroke-width="0.25" textLength="29.85" lengthAdjust="spacingAndGlyphs">7:00 AM</text>
<rect x="608.00" y="232.30" width="7.29" height="2.90" fill="#F28D56"/>
<rect x="608.00" y="235.20" width="7.29" height="2.90" fill="#386B9B"/>
<text x="605.30" y="237.85" font-size="6.84" text-anchor="end" font-weight="bold" fill="#111111" stroke="#111111" stroke-width="0.25" textLength="29.85" lengthAdjust="spacingAndGlyphs">8:00 AM</text>
<rect x="608.00" y="238.95" width="7.29" height="2.90" fill="#F28D56"/>
<rect x="608.00" y="241.85" width="21.87" height="2.90" fill="#386B9B"/>
<text x="605.30" y="244.50" font-size="6.84" text-anchor="end" font-weight="bold" fill="#111111" stroke="#111111" stroke-width="0.25" textLength="29.85" lengthAdjust="spacingAndGlyphs">9:00 AM</text>
<rect x="608.00" y="245.60" width="14.58" height="2.90" fill="#F28D56"/>
<rect x="608.00" y="248.50" width="29.16" height="2.90" fill="#386B9B"/>
<text x="605.30" y="251.15" font-size="6.84" text-anchor="end" font-weight="bold" fill="#111111" stroke="#111111" stroke-width="0.25" textLength="34.22" lengthAdjust="spacingAndGlyphs">10:00 AM</text>
<rect x="608.00" y="252.25" width="29.16" height="2.90" fill="#F28D56"/>
<rect x="608.00" y="255.15" width="36.45" height="2.90" fill="#386B9B"/>
<text x="605.30" y="257.80" font-size="6.84" text-anchor="end" font-weight="bold" fill="#111111" stroke="#111111" stroke-width="0.25" textLength="33.79" lengthAdjust="spacingAndGlyphs">11:00 AM</text>
<rect x="608.00" y="258.90" width="51.03" height="2.90" fill="#F28D56"/>
<rect x="608.00" y="261.80" width="36.45" height="2.90" fill="#386B9B"/>
<text x="605.30" y="264.45" font-size="6.84" text-anchor="end" font-weight="bold" fill="#111111" stroke="#111111" stroke-width="0.25" textLength="34.08" lengthAdjust="spacingAndGlyphs">12:00 PM</text>
<rect x="608.00" y="265.55" width="80.19" height="2.90" fill="#F28D56"/>
<rect x="608.00" y="268.45" width="21.87" height="2.90" fill="#386B9B"/>
<text x="605.30" y="271.10" font-size="6.84" text-anchor="end" font-weight="bold" fill="#111111" stroke="#111111" stroke-width="0.25" textLength="29.71" lengthAdjust="spacingAndGlyphs">1:00 PM</text>
<rect x="608.00" y="272.20" width="51.03" height="2.90" fill="#F28D56"/>
<rect x="608.00" y="275.10" width="14.58" height="2.90" fill="#386B9B"/>
<text x="605.30" y="277.75" font-size="6.84" text-anchor="end" font-weight="bold" fill="#111111" stroke="#111111" stroke-width="0.25" textLength="29.71" lengthAdjust="spacingAndGlyphs">2:00 PM</text>
<rect x="608.00" y="278.85" width="21.87" height="2.90" fill="#F28D56"/>
<rect x="608.00" y="281.75" width="36.45" height="2.90" fill="#386B9B"/>
<text x="605.30" y="284.40" font-size="6.84" text-anchor="end" font-weight="bold" fill="#111111" stroke="#111111" stroke-width="0.25" textLength="29.71" lengthAdjust="spacingAndGlyphs">3:00 PM</text>
<rect x="608.00" y="285.50" width="65.61" height="2.90" fill="#F28D56"/>
<rect x="608.00" y="288.40" width="29.16" height="2.90" fill="#386B9B"/>
<text x="605.30" y="291.05" font-size="6.84" text-anchor="end" font-weight="bold" fill="#111111" stroke="#111111" stroke-width="0.25" textLength="29.71" lengthAdjust="spacingAndGlyphs">4:00 PM</text>
<rect x="608.00" y="292.15" width="29.16" height="2.90" fill="#F28D56"/>
<rect x="608.00" y="295.05" width="51.03" height="2.90" fill="#386B9B"/>
<text x="605.30" y="297.70" font-size="6.84" text-anchor="end" font-weight="bold" fill="#111111" stroke="#111111" stroke-width="0.25" textLength="29.71" lengthAdjust="spacingAndGlyphs">5:00 PM</text>
<rect x="608.00" y="298.80" width="21.87" height="2.90" fill="#F28D56"/>
<rect x="608.00" y="301.70" width="14.58" height="2.90" fill="#386B9B"/>
<text x="605.30" y="304.35" font-size="6.84" text-anchor="end" font-weight="bold" fill="#111111" stroke="#111111" stroke-width="0.25" textLength="29.71" lengthAdjust="spacingAndGlyphs">6:00 PM</text>
<text x="605.30" y="311.00" font-size="6.84" text-anchor="end" font-weight="bold" fill="#111111" stroke="#111111" stroke-width="0.25" textLength="29.71" lengthAdjust="spacingAndGlyphs">7:00 PM</text>
<text x="605.30" y="317.65" font-size="6.84" text-anchor="end" font-weight="bold" fill="#111111" stroke="#111111" stroke-width="0.25" textLength="29.71" lengthAdjust="spacingAndGlyphs">8:00 PM</text>
<text x="605.30" y="324.30" font-size="6.84" text-anchor="end" font-weight="bold" fill="#111111" stroke="#111111" stroke-width="0.25" textLength="29.71" lengthAdjust="spacingAndGlyphs">9:00 PM</text>
<text x="605.30" y="330.95" font-size="6.84" text-anchor="end" font-weight="bold" fill="#111111" stroke="#111111" stroke-width="0.25" textLength="34.08" lengthAdjust="spacingAndGlyphs">10:00 PM</text>
<text x="605.30" y="337.60" font-size="6.84" text-anchor="end" font-weight="bold" fill="#111111" stroke="#111111" stroke-width="0.25" textLength="33.64" lengthAdjust="spacingAndGlyphs">11:00 PM</text>
<line x1="608.00" y1="176.40" x2="608.00" y2="341.00" stroke="#000" stroke-opacity="0.17" stroke-width="0.8"/>
<text x="608.00" y="351.00" font-size="6.71" text-anchor="middle" font-weight="bold" fill="#111111" stroke="#111111" stroke-width="0.25" textLength="3.39" lengthAdjust="spacingAndGlyphs">0</text>
<line x1="644.45" y1="176.40" x2="644.45" y2="341.00" stroke="#000" stroke-opacity="0.17" stroke-width="0.8"/>
<text x="644.45" y="351.00" font-size="6.71" text-anchor="middle" font-weight="bold" fill="#111111" stroke="#111111" stroke-width="0.25" textLength="3.39" lengthAdjust="spacingAndGlyphs">5</text>
<line x1="680.90" y1="176.40" x2="680.90" y2="341.00" stroke="#000" stroke-opacity="0.17" stroke-width="0.8"/>
<text x="680.90" y="351.00" font-size="6.71" text-anchor="middle" font-weight="bold" fill="#111111" stroke="#111111" stroke-width="0.25" textLength="6.79" lengthAdjust="spacingAndGlyphs">10</text>
<line x1="717.35" y1="176.40" x2="717.35" y2="341.00" stroke="#000" stroke-opacity="0.17" stroke-width="0.8"/>
<text x="717.35" y="351.00" font-size="6.71" text-anchor="middle" font-weight="bold" fill="#111111" stroke="#111111" stroke-width="0.25" textLength="6.79" lengthAdjust="spacingAndGlyphs">15</text>
<line x1="608.00" y1="341.00" x2="717.40" y2="341.00" stroke="#000" stroke-opacity="0.17" stroke-width="0.8"/>
<rect x="571.80" y="359.25" width="13.70" height="3.40" fill="#F28D56"/>
<text x="588.80" y="363.45" font-size="7.70" font-weight="bold" fill="#111111" stroke="#111111" stroke-width="0.25" textLength="49.70" lengthAdjust="spacingAndGlyphs">Previous Week</text>
<rect x="649.20" y="359.25" width="13.70" height="3.40" fill="#386B9B"/>
<text x="666.20" y="363.45" font-size="7.70" font-weight="bold" fill="#111111" stroke="#111111" stroke-width="0.25" textLength="42.50" lengthAdjust="spacingAndGlyphs">Report Week</text>
<text x="616.00" y="373.80" font-size="5.70" font-style="italic" fill="#222" stroke="#222" stroke-width="0.1" textLength="53.60" lengthAdjust="spacingAndGlyphs">Time Zone: US/Central</text>
<text x="583.00" y="379.80" font-size="5.70" font-style="italic" fill="#222" stroke="#222" stroke-width="0.1" textLength="119.40" lengthAdjust="spacingAndGlyphs">Smart Exit can only be enabled on the last camera.</text>
<text x="398.20" y="402.90" font-size="11.55" text-anchor="middle" font-weight="bold" fill="#111111" stroke="#111111" stroke-width="0.25" textLength="142.10" lengthAdjust="spacingAndGlyphs">Percent of Time by Category</text>
<rect x="287.00" y="405.00" width="222.80" height="10.50" fill="#114A84"/>
<text x="330.70" y="413.70" font-size="8.69" text-anchor="middle" font-weight="bold" fill="#C9DFF5" stroke="#C9DFF5" stroke-width="0.25" textLength="34.10" lengthAdjust="spacingAndGlyphs">Category</text>
<text x="409.00" y="413.70" font-size="8.69" text-anchor="middle" font-weight="bold" fill="#D6E6F7" stroke="#D6E6F7" stroke-width="0.25" textLength="55.60" lengthAdjust="spacingAndGlyphs">Previous Week</text>
<text x="476.00" y="413.70" font-size="8.69" text-anchor="middle" font-weight="bold" fill="#EEF4FB" stroke="#EEF4FB" stroke-width="0.25" textLength="48.00" lengthAdjust="spacingAndGlyphs">Report Week</text>
<rect x="287.00" y="416.60" width="86.80" height="10.40" fill="#D4D3D6"/>
<rect x="375.50" y="416.60" width="65.80" height="10.40" fill="#FCE8E1"/>
<rect x="443.20" y="416.60" width="65.30" height="10.40" fill="#DDE2EB"/>
<text x="330.70" y="424.50" font-size="8.69" text-anchor="middle" font-weight="bold" fill="#111" stroke="#111" stroke-width="0.25" textLength="52.40" lengthAdjust="spacingAndGlyphs">Washing Cars</text>
<text x="408.40" y="423.80" font-size="6.27" text-anchor="middle" font-weight="bold" fill="#111" stroke="#111" stroke-width="0.25" textLength="11.09" lengthAdjust="spacingAndGlyphs">93.2</text>
<text x="475.80" y="423.80" font-size="6.27" text-anchor="middle" font-weight="bold" fill="#111" stroke="#111" stroke-width="0.25" textLength="11.09" lengthAdjust="spacingAndGlyphs">84.4</text>
<rect x="287.00" y="428.10" width="86.80" height="10.40" fill="#D4D3D6"/>
<rect x="375.50" y="428.10" width="65.80" height="10.40" fill="#FCE8E1"/>
<rect x="443.20" y="428.10" width="65.30" height="10.40" fill="#DDE2EB"/>
<text x="330.70" y="436.00" font-size="8.69" text-anchor="middle" font-weight="bold" fill="#111" stroke="#111" stroke-width="0.25" textLength="13.00" lengthAdjust="spacingAndGlyphs">Idle</text>
<text x="408.40" y="435.30" font-size="6.27" text-anchor="middle" font-weight="bold" fill="#111" stroke="#111" stroke-width="0.25" textLength="7.92" lengthAdjust="spacingAndGlyphs">5.5</text>
<text x="475.80" y="435.30" font-size="6.27" text-anchor="middle" font-weight="bold" fill="#111" stroke="#111" stroke-width="0.25" textLength="11.09" lengthAdjust="spacingAndGlyphs">14.3</text>
<rect x="287.00" y="439.60" width="86.80" height="10.40" fill="#D4D3D6"/>
<rect x="375.50" y="439.60" width="65.80" height="10.40" fill="#FCE8E1"/>
<rect x="443.20" y="439.60" width="65.30" height="10.40" fill="#DDE2EB"/>
<text x="330.70" y="447.50" font-size="8.69" text-anchor="middle" font-weight="bold" fill="#111" stroke="#111" stroke-width="0.25" textLength="22.50" lengthAdjust="spacingAndGlyphs">Down</text>
<text x="408.40" y="446.80" font-size="6.27" text-anchor="middle" font-weight="bold" fill="#111" stroke="#111" stroke-width="0.25" textLength="7.92" lengthAdjust="spacingAndGlyphs">1.3</text>
<text x="475.80" y="446.80" font-size="6.27" text-anchor="middle" font-weight="bold" fill="#111" stroke="#111" stroke-width="0.25" textLength="7.92" lengthAdjust="spacingAndGlyphs">1.3</text>
<text x="314.00" y="457.80" font-size="5.70" font-style="italic" fill="#222" stroke="#222" stroke-width="0.1" textLength="168.70" lengthAdjust="spacingAndGlyphs">Washing Cars - Time the conveyor is on and vehicles are being washed.</text>
<text x="324.00" y="463.80" font-size="5.70" font-style="italic" fill="#222" stroke="#222" stroke-width="0.1" textLength="148.00" lengthAdjust="spacingAndGlyphs">Idle - Time the conveyor is off and no vehicles are in the tunnel.</text>
<text x="325.90" y="469.80" font-size="5.70" font-style="italic" fill="#222" stroke="#222" stroke-width="0.1" textLength="144.70" lengthAdjust="spacingAndGlyphs">Down - Time the conveyor is off and vehicles are in the tunnel.</text>
<text x="640.00" y="402.90" font-size="11.55" text-anchor="middle" font-weight="bold" fill="#111111" stroke="#111111" stroke-width="0.25" textLength="104.00" lengthAdjust="spacingAndGlyphs">Collisions Prevented</text>
<rect x="564.30" y="405.20" width="151.50" height="10.30" fill="#114A84"/>
<text x="602.00" y="413.90" font-size="8.69" text-anchor="middle" font-weight="bold" fill="#D6E6F7" stroke="#D6E6F7" stroke-width="0.25" textLength="56.50" lengthAdjust="spacingAndGlyphs">Previous Week</text>
<text x="678.20" y="413.90" font-size="8.69" text-anchor="middle" font-weight="bold" fill="#EEF4FB" stroke="#EEF4FB" stroke-width="0.25" textLength="47.50" lengthAdjust="spacingAndGlyphs">Report Week</text>
<rect x="564.50" y="417.50" width="73.90" height="9.60" fill="#FCE8E1"/>
<rect x="640.30" y="417.50" width="74.30" height="9.60" fill="#DDE2EB"/>
<text x="601.50" y="424.50" font-size="5.67" text-anchor="middle" font-weight="bold" fill="#111" stroke="#111" stroke-width="0.25" textLength="3.00" lengthAdjust="spacingAndGlyphs">0</text>
<text x="677.50" y="424.50" font-size="5.67" text-anchor="middle" font-weight="bold" fill="#111" stroke="#111" stroke-width="0.25" textLength="3.00" lengthAdjust="spacingAndGlyphs">0</text>
<text x="568.00" y="435.40" font-size="5.70" font-style="italic" fill="#222" stroke="#222" stroke-width="0.1" textLength="145.60" lengthAdjust="spacingAndGlyphs">NoPileups Emergency Stops where a second vehicle was less</text>
<text x="580.00" y="441.60" font-size="5.70" font-style="italic" fill="#222" stroke="#222" stroke-width="0.1" textLength="119.00" lengthAdjust="spacingAndGlyphs">than 6 feet behind the vehicle that caused the stop.</text>
<line x1="67.00" y1="499.70" x2="731.30" y2="499.70" stroke="#333" stroke-width="1"/>
<line x1="67.00" y1="518.60" x2="731.30" y2="518.60" stroke="#333" stroke-width="1"/>
<text x="70.00" y="512.00" font-size="7.70" font-weight="bold" fill="#111111" stroke="#111111" stroke-width="0.25" textLength="80.50" lengthAdjust="spacingAndGlyphs">Generated on: 5/20/2020</text>
<text x="728.30" y="512.00" font-size="7.70" text-anchor="end" font-weight="bold" fill="#111111" stroke="#111111" stroke-width="0.25" textLength="22.30" lengthAdjust="spacingAndGlyphs">4 of 33</text>
</svg>
</body></html>
